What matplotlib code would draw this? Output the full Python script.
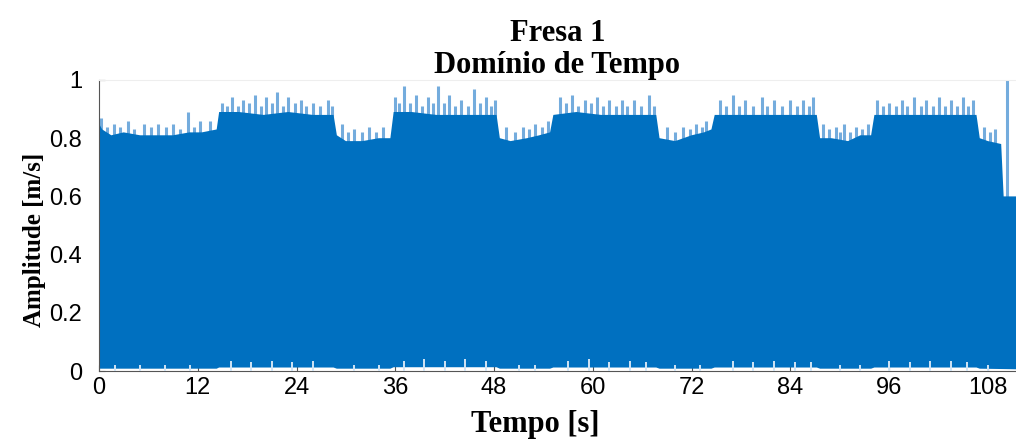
import matplotlib
matplotlib.use('Agg')
import matplotlib.pyplot as plt
import numpy as np

# upper edge of the vibration envelope, time [s] and amplitude [m/s]
t_top = [0, 0.4, 1.5, 3, 5, 7, 9, 11, 12.5, 14.3,
         14.6, 17, 20, 23, 26, 28.5,
         28.9, 30, 32, 34, 35.4,
         35.8, 38, 41, 44, 46, 48.3,
         48.7, 50, 52, 53.5, 54.8,
         55.2, 58, 61, 64, 67.7,
         68.1, 70, 72, 73.5, 74.4,
         74.8, 78, 82, 85, 87.2,
         87.6, 89, 91, 92.5, 93.8,
         94.2, 98, 102, 106.6,
         107, 108, 109.6,
         109.9, 111.4]
a_top = [0.85, 0.83, 0.81, 0.82, 0.81, 0.81, 0.81, 0.82, 0.82, 0.83,
         0.89, 0.89, 0.88, 0.89, 0.88, 0.88,
         0.81, 0.79, 0.79, 0.80, 0.80,
         0.89, 0.89, 0.88, 0.88, 0.88, 0.88,
         0.80, 0.79, 0.80, 0.81, 0.82,
         0.88, 0.89, 0.88, 0.88, 0.88,
         0.80, 0.79, 0.81, 0.82, 0.83,
         0.88, 0.88, 0.88, 0.88, 0.88,
         0.80, 0.80, 0.79, 0.81, 0.81,
         0.88, 0.88, 0.88, 0.88,
         0.80, 0.79, 0.78,
         0.60, 0.60]

# lower edge of the envelope
t_bot = [0, 14.3, 14.6, 28.5, 28.9, 35.4, 35.8, 48.3, 48.7, 54.8, 55.2,
         67.7, 68.1, 74.4, 74.8, 87.2, 87.6, 93.8, 94.2, 106.6, 107, 111.4]
a_bot = [0.008, 0.008, 0.012, 0.012, 0.008, 0.008, 0.013, 0.013, 0.008, 0.008,
         0.012, 0.012, 0.008, 0.008, 0.012, 0.012, 0.008, 0.008, 0.012, 0.012,
         0.008, 0.006]

# isolated peaks above the envelope
t_peak = [0.3, 1.0, 1.8, 2.6, 3.5, 4.3, 5.5, 6.3, 7.2, 8.1, 9, 9.9, 10.8, 11.6, 12.3, 13.5,
          15, 15.6, 16.2, 16.9, 17.5, 18.2, 19, 19.7, 20.3, 21, 21.6, 22.3, 23, 23.8,
          24.5, 25.2, 26, 26.9, 27.8, 28.3,
          29.5, 30.2, 31, 31.9, 32.8, 33.6, 34.5,
          36, 36.5, 37, 37.8, 38.5, 39.2, 40, 40.6, 41.2, 41.9, 42.5, 43.2, 44,
          44.8, 45.6, 46.3, 47, 47.6, 48.1,
          49.5, 50.5, 51.5, 52.3, 53, 53.8, 54.5,
          56, 56.7, 57.5, 58.2, 59, 59.8, 60.5, 61.2, 62, 62.8, 63.5, 64.2, 65,
          65.9, 66.8, 67.4,
          69, 70, 71, 71.8, 72.5, 73.2, 73.8,
          75.5, 76.2, 77, 77.8, 78.5, 79.5, 80.5, 81.2, 82, 83, 84, 84.8, 85.5,
          86.2, 86.8,
          88, 88.7, 89.5, 90, 90.5, 91.2, 92, 92.7, 93.4,
          94.5, 95.2, 96, 96.8, 97.5, 98.2, 99, 99.8, 100.5, 101.3, 102, 102.8,
          103.5, 104.2, 105, 105.6, 106.2,
          107.5, 108.2, 108.8, 110.3]
a_peak = [0.87, 0.84, 0.85, 0.84, 0.86, 0.83, 0.85, 0.84, 0.85, 0.84, 0.85, 0.83, 0.89, 0.84, 0.86, 0.86,
          0.92, 0.91, 0.94, 0.91, 0.93, 0.92, 0.95, 0.91, 0.94, 0.92, 0.96, 0.91, 0.94, 0.92,
          0.93, 0.91, 0.92, 0.91, 0.93, 0.91,
          0.85, 0.82, 0.83, 0.82, 0.84, 0.82, 0.84,
          0.94, 0.92, 0.98, 0.92, 0.95, 0.91, 0.94, 0.92, 0.98, 0.92, 0.95, 0.91, 0.93,
          0.91, 0.97, 0.92, 0.94, 0.91, 0.93,
          0.84, 0.82, 0.84, 0.83, 0.85, 0.84, 0.86,
          0.94, 0.92, 0.95, 0.91, 0.93, 0.92, 0.94, 0.91, 0.93, 0.91, 0.93, 0.91, 0.93,
          0.91, 0.95, 0.91,
          0.84, 0.82, 0.84, 0.83, 0.85, 0.84, 0.86,
          0.93, 0.91, 0.95, 0.91, 0.93, 0.91, 0.94, 0.91, 0.93, 0.91, 0.93, 0.91, 0.93,
          0.91, 0.94,
          0.85, 0.83, 0.84, 0.82, 0.85, 0.82, 0.84, 0.83, 0.85,
          0.93, 0.91, 0.92, 0.91, 0.93, 0.91, 0.94, 0.91, 0.93, 0.91, 0.94, 0.91,
          0.93, 0.91, 0.94, 0.91, 0.93,
          0.84, 0.82, 0.83, 1.0]

# notches rising from the lower edge
t_dip = [2, 5, 8, 11, 16, 18.5, 21, 23.5, 26, 31, 34, 37, 39.5, 42, 44.5, 47,
         51, 53, 57, 59.5, 62, 64.5, 66.5, 70, 73, 77, 79.5, 82, 84.5, 86.5,
         90, 92.5, 96, 98.5, 101, 103.5, 105.5, 108]
a_dip = [0.02, 0.02, 0.02, 0.022, 0.035, 0.03, 0.035, 0.03, 0.035, 0.02, 0.022,
         0.035, 0.04, 0.035, 0.04, 0.035, 0.02, 0.022, 0.035, 0.04, 0.03, 0.035,
         0.03, 0.02, 0.022, 0.035, 0.03, 0.035, 0.03, 0.03, 0.02, 0.022, 0.035,
         0.03, 0.035, 0.035, 0.03, 0.02]

x_ticks = [0, 12, 24, 36, 48, 60, 72, 84, 96, 108]
y_ticks = [0, 0.2, 0.4, 0.6, 0.8, 1]
y_ticklabels = ['0', '0.2', '0.4', '0.6', '0.8', '1']

serif = 'Liberation Serif'
blue = '#0070C0'
light = '#74ACDD'

fig = plt.figure(figsize=(10.16, 4.41), dpi=100)
ax = fig.add_axes([0.0974, 0.1587, 0.9026, 0.6599])

# envelope polygon: top edge forward, bottom edge back
xs = np.concatenate([t_top, t_bot[::-1]])
ys = np.concatenate([a_top, a_bot[::-1]])
ax.vlines(t_peak, 0.5, a_peak, color=light, lw=2.2, zorder=1)
ax.fill(xs, ys, color=blue, lw=0, zorder=2)
ax.vlines(t_dip, 0, a_dip, color='#d2e5f5', lw=1.4, zorder=3)

ax.set_xlim(0, 111.4)
ax.set_ylim(0, 1)
ax.set_xticks(x_ticks)
ax.set_yticks(y_ticks)
ax.set_yticklabels(y_ticklabels)
ax.tick_params(direction='in', length=4, width=0.8, color='#555555',
               labelsize=17, pad=12)
for lab in ax.get_xticklabels() + ax.get_yticklabels():
    lab.set_family('Liberation Sans')
ax.tick_params(axis='x', pad=4)

ax.spines['right'].set_visible(False)
ax.spines['top'].set_color('#eeeeee')
ax.spines['left'].set_color('#555555')
ax.spines['bottom'].set_color('#555555')

ax.set_xlabel('Tempo [s]', family=serif, fontweight='bold', fontsize=22)
ax.xaxis.set_label_coords(0.476, -0.135)
ax.set_ylabel('Amplitude [m/s]', family=serif, fontweight='bold', fontsize=18)
ax.yaxis.set_label_coords(-0.058, 0.45)
ax.set_title('Fresa 1\nDomínio de Tempo', family=serif, fontweight='bold',
             fontsize=22, linespacing=1.15, pad=5)

fig.savefig('out.png', dpi=100)
